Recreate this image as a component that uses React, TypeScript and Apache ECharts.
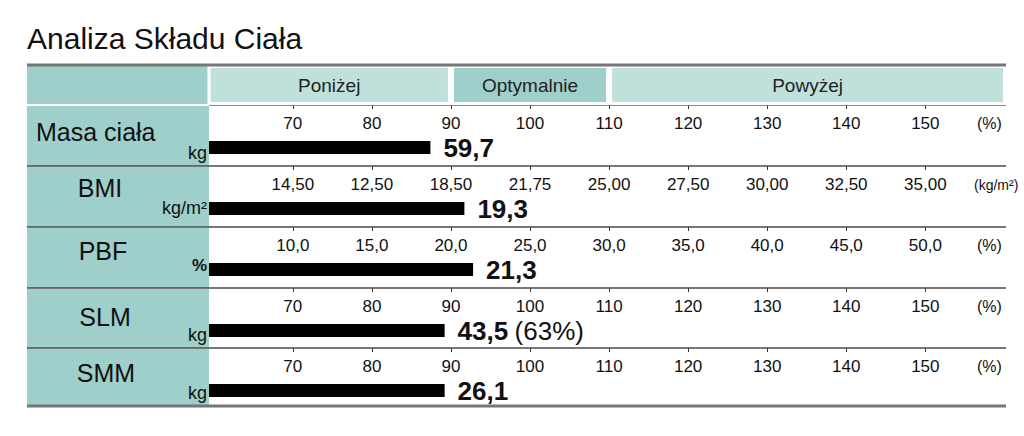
import React, { useEffect, useRef } from "react";
import * as echarts from "echarts";

// ---------- data ----------
const TITLE = "Analiza Składu Ciała";
const HEADER_LABELS = ["Poniżej", "Optymalnie", "Powyżej"];
const HEADER_SPANS = [90, 20, 50.2]; // stacked % ranges: below / optimal / above
const ROW_NAMES = ["Masa ciała", "BMI", "PBF", "SLM", "SMM"];
const ROW_UNITS = ["kg", "kg/m²", "%", "kg", "kg"];
const BAR_PCT = [87.4, 91.7, 92.8, 89.2, 89.2];
const VALUES = ["59,7", "19,3", "21,3", "43,5", "26,1"];
const VALUE_NOTES = ["", "", "", "(63%)", ""];
const TICK_VALUES = [70, 80, 90, 100, 110, 120, 130, 140, 150];
const PCT_TICKS = ["70", "80", "90", "100", "110", "120", "130", "140", "150"];
const BMI_TICKS = ["14,50", "12,50", "18,50", "21,75", "25,00", "27,50", "30,00", "32,50", "35,00"];
const PBF_TICKS = ["10,0", "15,0", "20,0", "25,0", "30,0", "35,0", "40,0", "45,0", "50,0"];
const ROW_TICKS = [PCT_TICKS, BMI_TICKS, PBF_TICKS, PCT_TICKS, PCT_TICKS];
const AXIS_UNITS = ["(%)", "(kg/m²)", "(%)", "(%)", "(%)"];

// ---------- layout ----------
const FONT = '"Liberation Sans", Arial, Helvetica, sans-serif';
const X_MIN = 59.4;
const X_MAX = 160.2;
const LEFT = 209;
const RIGHT_EDGE = 1006;
const TABLE_LEFT = 27;
const ROW_TOP = [105, 166, 227, 288, 348];
const TABLE_BOTTOM = 406;
const TEAL = "#9ecfca";
const LIGHT = "#c0e0dc";
const NAME_POS = [
  { x: 36, y: 132, align: "left" },
  { x: 100, y: 188, align: "center" },
  { x: 103, y: 251, align: "center" },
  { x: 105, y: 317, align: "center" },
  { x: 106, y: 373, align: "center" },
];
const UNIT_Y = [153, 208, 265, 335, 393];

export default function App() {
  const ref = useRef<HTMLDivElement>(null);

  useEffect(() => {
    if (!ref.current) return;
    const chart = echarts.init(ref.current, undefined, { renderer: "svg" });

    const grids: any[] = [];
    const xAxes: any[] = [];
    const yAxes: any[] = [];
    const series: any[] = [];

    ROW_NAMES.forEach((_, i) => {
      const top = ROW_TOP[i];
      grids.push({
        left: LEFT,
        right: 1024 - RIGHT_EDGE,
        top: top + 36,
        height: 13,
        outerBoundsMode: "none",
        containLabel: false,
      });
      const labels = ROW_TICKS[i];
      xAxes.push({
        type: "value",
        gridIndex: i,
        position: "top",
        offset: 36,
        min: X_MIN,
        max: X_MAX,
        axisLine: { show: false },
        splitLine: { show: false },
        axisTick: {
          show: true,
          inside: true,
          length: 4,
          customValues: TICK_VALUES,
          lineStyle: { color: "#333", width: 1 },
        },
        axisLabel: {
          show: true,
          inside: true,
          margin: 10,
          customValues: TICK_VALUES,
          fontFamily: FONT,
          fontSize: 17,
          color: "#111",
          formatter: (v: number) => {
            const idx = TICK_VALUES.indexOf(Math.round(v));
            return idx >= 0 ? labels[idx] : "";
          },
        },
      });
      yAxes.push({
        type: "category",
        gridIndex: i,
        data: [ROW_NAMES[i]],
        show: false,
      });
      series.push({
        type: "bar",
        xAxisIndex: i,
        yAxisIndex: i,
        data: [BAR_PCT[i]],
        barWidth: 13,
        itemStyle: { color: "#000" },
        silent: true,
        label: {
          show: true,
          position: "right",
          distance: 13,
          formatter: () =>
            VALUE_NOTES[i]
              ? `{b|${VALUES[i]}} {n|${VALUE_NOTES[i]}}`
              : `{b|${VALUES[i]}}`,
          rich: {
            b: { fontFamily: FONT, fontSize: 26, fontWeight: "bold", color: "#111" },
            n: { fontFamily: FONT, fontSize: 26, color: "#111", padding: [0, 0, 0, 3] },
          },
        },
      });
    });

    // header band grid
    const hIdx = ROW_NAMES.length;
    grids.push({
      left: LEFT,
      right: 1024 - RIGHT_EDGE,
      top: 65,
      height: 40,
      outerBoundsMode: "none",
      containLabel: false,
    });
    xAxes.push({ type: "value", gridIndex: hIdx, min: X_MIN, max: X_MAX, show: false });
    yAxes.push({ type: "category", gridIndex: hIdx, data: ["h"], show: false });
    HEADER_LABELS.forEach((lab, k) => {
      series.push({
        type: "bar",
        xAxisIndex: hIdx,
        yAxisIndex: hIdx,
        stack: "header",
        data: [HEADER_SPANS[k]],
        barWidth: 40,
        silent: true,
        itemStyle: {
          color: k === 1 ? TEAL : LIGHT,
          borderColor: "#fff",
          borderWidth: 3,
        },
        label: {
          show: true,
          position: "inside",
          formatter: () => lab,
          fontFamily: FONT,
          fontSize: 19,
          color: "#222",
        },
      });
    });

    const graphic: any[] = [];
    // title
    graphic.push({
      type: "text",
      left: 27,
      top: 23,
      style: { text: TITLE, font: `30px ${FONT}`, fill: "#111" },
    });
    // left teal header cell
    graphic.push({
      type: "rect",
      shape: { x: TABLE_LEFT, y: 66, width: LEFT - TABLE_LEFT, height: 38 },
      style: { fill: TEAL },
      z: 1,
    });
    // left teal row cells
    ROW_TOP.forEach((t, i) => {
      const next = i < ROW_TOP.length - 1 ? ROW_TOP[i + 1] : TABLE_BOTTOM;
      graphic.push({
        type: "rect",
        shape: { x: TABLE_LEFT, y: t + 1, width: LEFT - TABLE_LEFT, height: next - t - 1 },
        style: { fill: TEAL },
        z: 1,
      });
    });
    // lines
    graphic.push({
      type: "line",
      shape: { x1: TABLE_LEFT, y1: 65, x2: RIGHT_EDGE, y2: 65 },
      style: { stroke: "#767676", lineWidth: 3 },
      z: 100,
    });
    graphic.push({
      type: "line",
      shape: { x1: LEFT, y1: 105.5, x2: RIGHT_EDGE, y2: 105.5 },
      style: { stroke: "#8a8a8a", lineWidth: 1 },
      z: 100,
    });
    ROW_TOP.slice(1).forEach((t) => {
      graphic.push({
        type: "line",
        shape: { x1: TABLE_LEFT, y1: t, x2: RIGHT_EDGE, y2: t },
        style: { stroke: "#4a4a4a", lineWidth: 1.5 },
        z: 100,
      });
    });
    graphic.push({
      type: "line",
      shape: { x1: TABLE_LEFT, y1: TABLE_BOTTOM, x2: RIGHT_EDGE, y2: TABLE_BOTTOM },
      style: { stroke: "#767676", lineWidth: 3 },
      z: 100,
    });
    // row names, units, axis units
    ROW_NAMES.forEach((name, i) => {
      const p = NAME_POS[i];
      graphic.push({
        type: "text",
        x: p.x,
        y: p.y,
        z: 50,
        style: {
          text: name,
          font: `25px ${FONT}`,
          fill: "#111",
          textAlign: p.align,
          textVerticalAlign: "middle",
        },
      });
      graphic.push({
        type: "text",
        x: LEFT - 2,
        y: UNIT_Y[i],
        z: 50,
        style: {
          text: ROW_UNITS[i],
          font: `${ROW_UNITS[i] === "%" ? "bold 17px" : "18px"} ${FONT}`,
          fill: "#111",
          textAlign: "right",
          textVerticalAlign: "middle",
        },
      });
      const isLong = AXIS_UNITS[i].length > 4;
      graphic.push({
        type: "text",
        x: isLong ? 974 : 977,
        y: ROW_TOP[i] + 18.5,
        z: 50,
        style: {
          text: AXIS_UNITS[i],
          font: `${isLong ? 14 : 16}px ${FONT}`,
          fill: "#111",
          textAlign: "left",
          textVerticalAlign: "middle",
        },
      });
    });

    chart.setOption({
      animation: false,
      backgroundColor: "#fff",
      textStyle: { fontFamily: FONT },
      grid: grids,
      xAxis: xAxes,
      yAxis: yAxes,
      series,
      graphic,
    });

    return () => chart.dispose();
  }, []);

  return (
    <div
      ref={ref}
      style={{ position: "absolute", left: 0, top: 0, width: 1024, height: 436 }}
    />
  );
}
